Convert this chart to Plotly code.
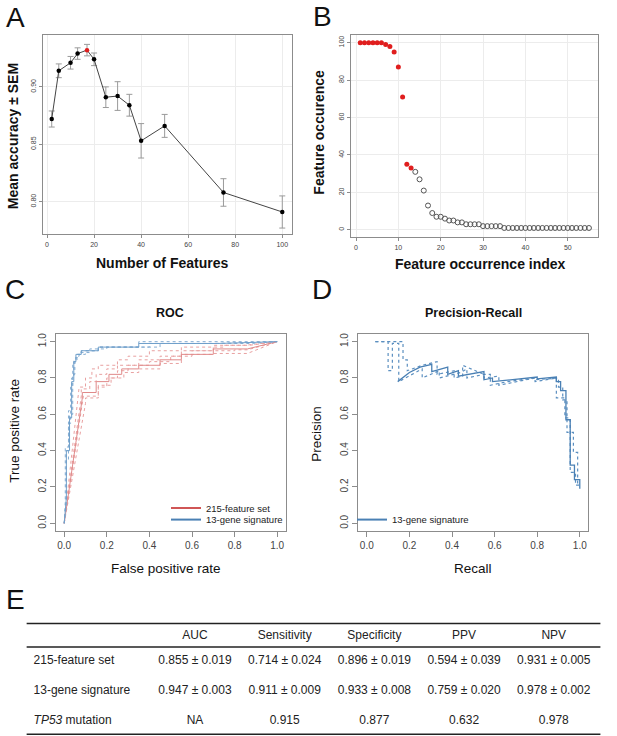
import plotly.graph_objects as go

W, H = 617, 736
FONT = "Liberation Sans, Arial, sans-serif"

# A - accuracy vs number of features
n_features = [2, 5, 10, 13, 17, 20, 25, 30, 35, 40, 50, 75, 100]
mean_acc = [0.872, 0.914, 0.921, 0.929, 0.932, 0.924, 0.891, 0.892, 0.884, 0.853, 0.866, 0.808, 0.791]
sem_acc = [0.007, 0.006, 0.0055, 0.005, 0.005, 0.0055, 0.009, 0.0125, 0.0095, 0.015, 0.010, 0.012, 0.014]
best_n = 17

# B - feature occurrence (first 13 = signature genes)
occurrence = [100, 100, 100, 100, 100, 100, 99, 98, 95, 87, 71, 35, 33,
              31, 27, 21, 13, 9, 7, 7, 6, 5, 5, 4, 4, 3, 3, 3, 3, 2, 2, 2, 2, 2,
              1, 1, 1, 1, 1, 1, 1, 1, 1, 1, 1, 1, 1, 1, 1, 1, 1, 1, 1, 1, 1]
n_signature = 13

# C - ROC corner points per CV fold (fpr, tpr)
roc_215 = [
    ([0, 0.07, 0.10, 0.13, 0.16, 0.25, 0.30, 0.40, 0.55, 0.75, 0.85, 1], [0, 0.72, 0.75, 0.80, 0.85, 0.87, 0.90, 0.92, 0.95, 0.97, 0.98, 1]),
    ([0, 0.08, 0.12, 0.15, 0.20, 0.25, 0.35, 0.45, 0.55, 0.70, 0.87, 1], [0, 0.70, 0.74, 0.78, 0.82, 0.85, 0.87, 0.90, 0.92, 0.95, 0.98, 1]),
    ([0, 0.09, 0.16, 0.20, 0.25, 0.30, 0.40, 0.50, 0.60, 0.80, 0.86, 1], [0, 0.68, 0.70, 0.75, 0.80, 0.84, 0.87, 0.89, 0.92, 0.95, 0.955, 1]),
    ([0, 0.10, 0.16, 0.22, 0.28, 0.35, 0.45, 0.55, 0.70, 0.86, 1], [0, 0.66, 0.69, 0.76, 0.80, 0.83, 0.85, 0.88, 0.93, 0.935, 1]),
]
roc_215_mean = ([0, 0.085, 0.15, 0.21, 0.27, 0.35, 0.45, 0.55, 0.70, 0.86, 1], [0, 0.69, 0.72, 0.78, 0.82, 0.85, 0.87, 0.90, 0.93, 0.96, 1])
roc_13 = [
    ([0, 0.01, 0.02, 0.03, 0.04, 0.05, 0.06, 0.08, 0.16, 0.35, 0.72, 1], [0, 0.15, 0.35, 0.55, 0.75, 0.88, 0.91, 0.93, 0.95, 0.97, 1.0, 1]),
    ([0, 0.005, 0.02, 0.035, 0.045, 0.055, 0.07, 0.12, 0.20, 0.40, 0.70, 1], [0, 0.12, 0.42, 0.62, 0.80, 0.90, 0.92, 0.94, 0.96, 0.97, 0.99, 1]),
    ([0, 0.01, 0.025, 0.04, 0.05, 0.06, 0.10, 0.16, 0.45, 0.88, 1], [0, 0.10, 0.40, 0.60, 0.82, 0.89, 0.93, 0.95, 0.97, 0.99, 1]),
]
roc_13_mean = ([0, 0.01, 0.025, 0.035, 0.045, 0.055, 0.08, 0.16, 0.35, 0.72, 1], [0, 0.14, 0.40, 0.58, 0.78, 0.89, 0.93, 0.95, 0.97, 0.99, 1])

# D - precision-recall (13-gene signature)
pr_recall = [0.145, 0.20, 0.25, 0.305, 0.305, 0.38, 0.38, 0.43, 0.43, 0.55, 0.55, 0.59, 0.59, 0.80, 0.80,
             0.89, 0.89, 0.91, 0.91, 0.935, 0.935, 0.955, 0.955, 0.975, 0.975, 1.0, 1.0]
pr_precision = [0.78, 0.83, 0.86, 0.875, 0.835, 0.86, 0.82, 0.84, 0.81, 0.835, 0.79, 0.80, 0.78, 0.805, 0.795,
                0.805, 0.78, 0.78, 0.73, 0.73, 0.57, 0.57, 0.32, 0.32, 0.24, 0.24, 0.19]
pr_folds = [
    ([0.04, 0.17, 0.17, 0.19, 0.19, 0.26, 0.33, 0.33, 0.41, 0.41, 0.45, 0.45, 0.55, 0.55, 0.62, 0.62, 0.79, 0.79,
      0.90, 0.90, 0.92, 0.92, 0.94, 0.94, 0.97, 0.97, 0.99, 0.99],
     [1.0, 1.0, 0.90, 0.90, 0.84, 0.87, 0.89, 0.82, 0.84, 0.80, 0.81, 0.87, 0.82, 0.80, 0.81, 0.76, 0.80, 0.79,
      0.80, 0.75, 0.75, 0.68, 0.68, 0.50, 0.50, 0.39, 0.39, 0.21]),
    ([0.04, 0.10, 0.10, 0.12, 0.12, 0.15, 0.15, 0.21, 0.26, 0.26, 0.34, 0.34, 0.44, 0.47, 0.47, 0.55, 0.58, 0.58,
      0.66, 0.79, 0.79, 0.89, 0.89, 0.93, 0.93, 0.955, 0.955, 0.98, 0.98, 1.0],
     [1.0, 1.0, 0.84, 0.84, 0.99, 0.99, 0.78, 0.82, 0.85, 0.80, 0.84, 0.80, 0.83, 0.85, 0.80, 0.82, 0.82, 0.76,
      0.78, 0.80, 0.78, 0.80, 0.69, 0.69, 0.58, 0.58, 0.28, 0.28, 0.21, 0.21]),
]

# E - table
table_cols = ["AUC", "Sensitivity", "Specificity", "PPV", "NPV"]
table_rows = ["215-feature set", "13-gene signature", "<i>TP53</i> mutation"]
table_vals = [
    ["0.855 ± 0.019", "0.714 ± 0.024", "0.896 ± 0.019", "0.594 ± 0.039", "0.931 ± 0.005"],
    ["0.947 ± 0.003", "0.911 ± 0.009", "0.933 ± 0.008", "0.759 ± 0.020", "0.978 ± 0.002"],
    ["NA", "0.915", "0.877", "0.632", "0.978"],
]

RED = "#d05656"
BLUE = "#4a80b4"


def dom_x(l, r):
    return [l / W, r / W]


def dom_y(t, b):
    return [1 - b / H, 1 - t / H]


def r_axis(domain, rng, tickvals, size=7, ticklen=3, angle=0, grid=False, anchor=None, fmt=None):
    return dict(domain=domain, range=rng, tickvals=tickvals, anchor=anchor, tickformat=fmt,
                showline=True, mirror=True, linecolor="#8c8c8c", linewidth=1,
                ticks="outside", ticklen=ticklen, tickcolor="#8c8c8c", tickwidth=1,
                tickfont=dict(size=size, color="#444", family=FONT), tickangle=angle,
                zeroline=False, showgrid=grid, gridcolor="#ececec", gridwidth=1, fixedrange=True)


def roc_path(fpr, tpr):
    xs, ys = [fpr[0]], [tpr[0]]
    last = len(fpr) - 1
    for i in range(1, len(fpr)):
        if i == 1 or i == last:
            xs.append(fpr[i]); ys.append(tpr[i])
        else:
            xs += [xs[-1], fpr[i]]; ys += [tpr[i], tpr[i]]
    return xs, ys


fig = go.Figure()

# A
fig.add_trace(go.Scatter(
    x=n_features, y=mean_acc, mode="lines+markers", xaxis="x", yaxis="y", showlegend=False,
    line=dict(color="#444", width=1),
    marker=dict(size=4.5, color=["#e01e1e" if n == best_n else "black" for n in n_features]),
    error_y=dict(type="data", array=sem_acc, color="#9a9a9a", thickness=1, width=3),
))

# B
idx = list(range(1, len(occurrence) + 1))
fig.add_trace(go.Scatter(
    x=idx[:n_signature], y=occurrence[:n_signature], mode="markers", xaxis="x2", yaxis="y2", showlegend=False,
    marker=dict(size=5, color="#e01e1e"),
))
fig.add_trace(go.Scatter(
    x=idx[n_signature:], y=occurrence[n_signature:], mode="markers", xaxis="x2", yaxis="y2", showlegend=False,
    marker=dict(size=5, color="rgba(0,0,0,0)", line=dict(color="#555", width=1)),
))

# C
for fpr, tpr in roc_215:
    xs, ys = roc_path(fpr, tpr)
    fig.add_trace(go.Scatter(x=xs, y=ys, mode="lines", xaxis="x3", yaxis="y3", showlegend=False,
                             line=dict(color="#e8a0a0", width=1, dash="dot")))
xs, ys = roc_path(*roc_215_mean)
fig.add_trace(go.Scatter(x=xs, y=ys, mode="lines", xaxis="x3", yaxis="y3", showlegend=False,
                         line=dict(color="#e08a8a", width=1)))
for fpr, tpr in roc_13:
    xs, ys = roc_path(fpr, tpr)
    fig.add_trace(go.Scatter(x=xs, y=ys, mode="lines", xaxis="x3", yaxis="y3", showlegend=False,
                             line=dict(color="#86aed3", width=1, dash="dot")))
xs, ys = roc_path(*roc_13_mean)
fig.add_trace(go.Scatter(x=xs, y=ys, mode="lines", xaxis="x3", yaxis="y3", showlegend=False,
                         line=dict(color="#6f9fca", width=1)))
fig.add_trace(go.Scatter(x=[None], y=[None], mode="lines", xaxis="x3", yaxis="y3", name="215-feature set",
                         line=dict(color=RED, width=2), legend="legend"))
fig.add_trace(go.Scatter(x=[None], y=[None], mode="lines", xaxis="x3", yaxis="y3", name="13-gene signature",
                         line=dict(color=BLUE, width=2), legend="legend2"))

# D
for r, p in pr_folds:
    fig.add_trace(go.Scatter(x=r, y=p, mode="lines", xaxis="x4", yaxis="y4", showlegend=False,
                             line=dict(color="#5b8fc0", width=1.2, dash="dot")))
fig.add_trace(go.Scatter(x=pr_recall, y=pr_precision, mode="lines", xaxis="x4", yaxis="y4", showlegend=False,
                         line=dict(color=BLUE, width=1.3)))
fig.add_trace(go.Scatter(x=[None], y=[None], mode="lines", xaxis="x4", yaxis="y4", name="13-gene signature",
                         line=dict(color=BLUE, width=2), legend="legend3"))

# E - table cells on their own hidden axes (column index / row index)
col_x = list(range(1, len(table_cols) + 1))
header_y = 0.16
label_x = -0.80
fig.add_trace(go.Scatter(x=col_x, y=[header_y] * len(col_x), text=table_cols, mode="text", xaxis="x5", yaxis="y5",
                         showlegend=False, textposition="middle center",
                         textfont=dict(size=12, color="#222", family=FONT)))
for r, (lab, vals) in enumerate(zip(table_rows, table_vals), start=1):
    fig.add_trace(go.Scatter(x=[label_x], y=[r], text=[lab], mode="text", xaxis="x5", yaxis="y5",
                             showlegend=False, textposition="middle right",
                             textfont=dict(size=12, color="#222", family=FONT)))
    fig.add_trace(go.Scatter(x=col_x, y=[r] * len(col_x), text=vals, mode="text", xaxis="x5", yaxis="y5",
                             showlegend=False, textposition="middle center",
                             textfont=dict(size=12, color="#222", family=FONT)))

rule_x = [-0.877, 5.52]
for ry in [-0.257, 0.523, 3.443]:
    fig.add_shape(type="line", xref="x5", yref="y5", x0=rule_x[0], x1=rule_x[1], y0=ry, y1=ry,
                  line=dict(color="#222", width=1.5))

ann = []


def label(text, x, y, size, bold=False, angle=0):
    ann.append(dict(text=f"<b>{text}</b>" if bold else text, x=x / W, y=1 - y / H, xref="paper", yref="paper",
                    showarrow=False, textangle=angle, xanchor="center", yanchor="middle",
                    font=dict(size=size, color="#111", family=FONT)))


for letter, lx, ly in [("A", 15, 16), ("B", 322, 15), ("C", 15, 288), ("D", 322, 288), ("E", 15, 599)]:
    label(letter, lx, ly, 28)

label("Mean accuracy ± SEM", 12.5, 135, 14, bold=True, angle=-90)
label("Number of Features", 162, 262, 14, bold=True)
label("Feature occurence", 319, 131, 14, bold=True, angle=-90)
label("Feature occurrence index", 481, 263, 14, bold=True)
label("ROC", 170, 312, 12.5, bold=True)
label("True positive rate", 15, 430, 13.5, angle=-90)
label("False positive rate", 166, 568, 13.5)
label("Precision-Recall", 473, 312, 12.5, bold=True)
label("Precision", 317, 433, 13.5, angle=-90)
label("Recall", 473, 568, 13.5)

legend_style = dict(font=dict(size=9.5, color="#222", family=FONT), bgcolor="rgba(0,0,0,0)",
                    xanchor="left", yanchor="middle", itemwidth=30, tracegroupgap=0)

fig.update_layout(
    width=W, height=H, autosize=False, margin=dict(l=0, r=0, t=0, b=0),
    paper_bgcolor="white", plot_bgcolor="white", font=dict(family=FONT),
    xaxis=r_axis(dom_x(42.5, 291.5), [-1.92, 103.92], [0, 20, 40, 60, 80, 100], grid=True, anchor="y"),
    yaxis=r_axis(dom_y(33.3, 233), [0.7715, 0.945], [0.80, 0.85, 0.90], angle=-90, grid=True, anchor="x", fmt=".2f"),
    xaxis2=r_axis(dom_x(351.1, 598.1), [-1.16, 57.16], [0, 10, 20, 30, 40, 50], grid=True, anchor="y2"),
    yaxis2=r_axis(dom_y(33.3, 236), [-4, 104], [0, 20, 40, 60, 80, 100], angle=-90, grid=True, anchor="x2"),
    xaxis3=r_axis(dom_x(55.7, 285.7), [-0.04, 1.04], [0, 0.2, 0.4, 0.6, 0.8, 1.0], size=10, ticklen=5, anchor="y3", fmt=".1f"),
    yaxis3=r_axis(dom_y(333.3, 530), [-0.04, 1.04], [0, 0.2, 0.4, 0.6, 0.8, 1.0], size=10, ticklen=5, angle=-90, anchor="x3", fmt=".1f"),
    xaxis4=r_axis(dom_x(358.3, 588.3), [-0.04, 1.04], [0, 0.2, 0.4, 0.6, 0.8, 1.0], size=10, ticklen=5, anchor="y4", fmt=".1f"),
    yaxis4=r_axis(dom_y(333.3, 530), [-0.04, 1.04], [0, 0.2, 0.4, 0.6, 0.8, 1.0], size=10, ticklen=5, angle=-90, anchor="x4", fmt=".1f"),
    xaxis5=dict(domain=[0, 1], range=[-1.174, 5.705], visible=False, fixedrange=True, anchor="y5"),
    yaxis5=dict(domain=dom_y(615, 736), range=[3.5, -0.533], visible=False, fixedrange=True, anchor="x5"),
    legend=dict(x=166 / W, y=1 - 507.3 / H, **legend_style),
    legend2=dict(x=166 / W, y=1 - 519 / H, **legend_style),
    legend3=dict(x=352 / W, y=1 - 519 / H, **legend_style),
    annotations=ann,
)

# page body has a default 8px margin; drop it so the figure sits at the window origin
fig.write_html("out.html", config={"displayModeBar": False},
               post_script="document.body.style.margin='0';")
